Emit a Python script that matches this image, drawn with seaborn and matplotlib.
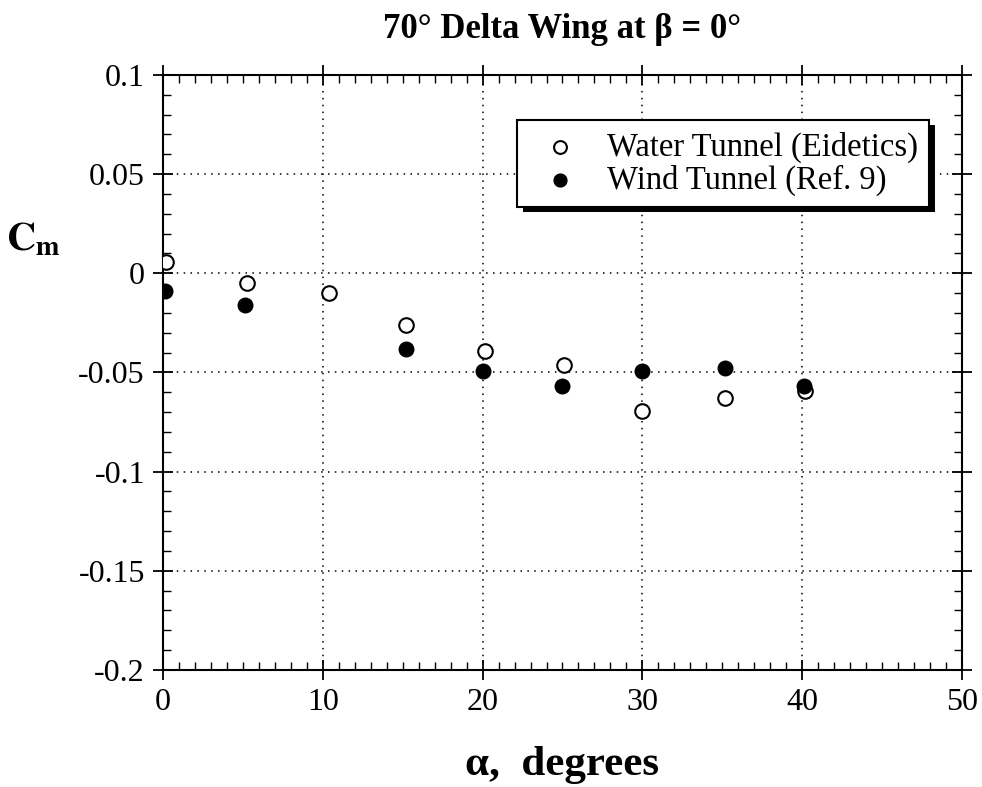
import matplotlib
matplotlib.use("Agg")
import matplotlib.pyplot as plt
import matplotlib.patheffects as pe
import seaborn as sns
import pandas as pd
from matplotlib.ticker import MultipleLocator

sns.set_style("ticks")
plt.rcParams['font.family'] = ['Liberation Serif', 'DejaVu Serif']
plt.rcParams['mathtext.fontset'] = 'stix'
plt.rcParams['text.color'] = 'black'
plt.rcParams['axes.labelcolor'] = 'black'
plt.rcParams['xtick.color'] = 'black'
plt.rcParams['ytick.color'] = 'black'

water_alpha = [0.2, 5.25, 10.4, 15.2, 20.15, 25.1, 30.0, 35.2, 40.2]
water_cm = [0.0055, -0.005, -0.010, -0.026, -0.039, -0.046, -0.0695, -0.063, -0.0595]
wind_alpha = [0.1, 5.1, 15.2, 20.0, 25.0, 30.0, 35.2, 40.1]
wind_cm = [-0.009, -0.016, -0.038, -0.0495, -0.057, -0.0495, -0.0475, -0.057]
ytick_vals = [0.1, 0.05, 0, -0.05, -0.1, -0.15, -0.2]
ytick_text = ["0.1", "0.05", "0", "-0.05", "-0.1", "-0.15", "-0.2"]

water = pd.DataFrame({"alpha": water_alpha, "cm": water_cm})
wind = pd.DataFrame({"alpha": wind_alpha, "cm": wind_cm})

fig = plt.figure(figsize=(9.82, 7.87), dpi=100)
ax = fig.add_axes([0.166, 0.1487, 0.8136, 0.756])

sns.scatterplot(data=water, x="alpha", y="cm", ax=ax, marker="o", s=110,
                facecolor="white", edgecolor="black", linewidth=1.5,
                label="Water Tunnel (Eidetics)", zorder=3)
sns.scatterplot(data=wind, x="alpha", y="cm", ax=ax, marker="o", s=110,
                color="black", edgecolor="black", linewidth=1.0,
                label="Wind Tunnel (Ref. 9)", zorder=3)

ax.set_xlim(0, 50)
ax.set_ylim(-0.2, 0.1)
ax.xaxis.set_major_locator(MultipleLocator(10))
ax.xaxis.set_minor_locator(MultipleLocator(1))
ax.yaxis.set_minor_locator(MultipleLocator(0.01))
ax.set_yticks(ytick_vals)
ax.set_yticklabels(ytick_text)

ax.tick_params(which="both", direction="in", top=True, right=True, colors="black",
               labelcolor="black")
ax.tick_params(which="major", direction="inout", length=14, width=1.3, labelsize=23, pad=6)
ax.tick_params(which="minor", length=6, width=1.0)
for s in ax.spines.values():
    s.set_linewidth(1.5)
    s.set_color("black")

ax.grid(True, which="major", linestyle=(0, (1, 3.5)), color="black", linewidth=1.1)

ax.set_xlabel("α,  degrees", fontsize=31, fontweight="bold", labelpad=21, color="black")
ax.set_ylabel(r"$\mathbf{C_m}$", fontsize=29, rotation=0, color="black")
ax.yaxis.set_label_coords(-0.162, 0.69)
ax.set_title("70° Delta Wing at β = 0°", fontsize=25, fontweight="bold", pad=27, color="black")

leg = ax.legend(loc="upper left", bbox_to_anchor=(0.443, 0.924), borderaxespad=0,
                fontsize=23.5, frameon=True, fancybox=False, edgecolor="black",
                framealpha=1, shadow=False,
                handletextpad=0.45, borderpad=0.35, labelspacing=0.05,
                handlelength=1.95)
for t in leg.get_texts():
    t.set_color("black")
frame = leg.get_frame()
frame.set_linewidth(1.5)
frame.set_path_effects([pe.SimplePatchShadow(offset=(4.5, -3.5), shadow_rgbFace="black", alpha=1.0),
                        pe.Normal()])
for h in leg.legend_handles:
    h.set_sizes([85])

fig.savefig("out.png", dpi=100)
